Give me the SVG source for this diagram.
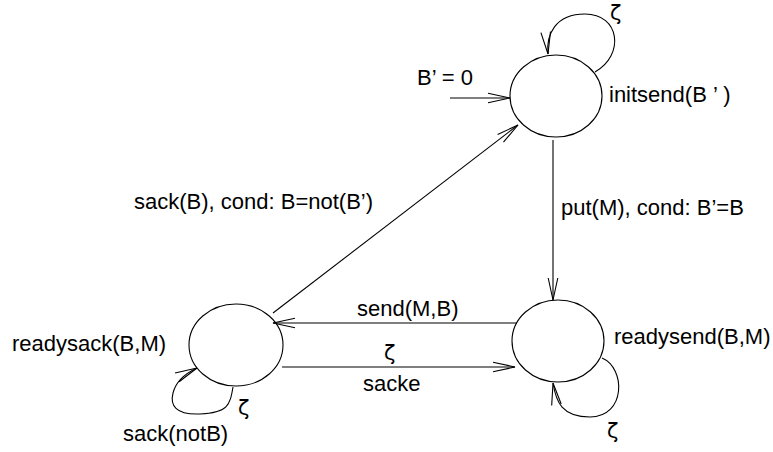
<svg xmlns="http://www.w3.org/2000/svg" width="773" height="452" viewBox="0 0 773 452">
<style>
.node{fill:none;stroke:#000;stroke-width:1.1}
.edge{fill:none;stroke:#000;stroke-width:1.1}
text{font-family:"Liberation Sans",Arial,sans-serif;font-size:22px;fill:#000}
text.z{font-family:"DejaVu Sans",sans-serif;font-size:21px}
</style>
<defs>
<marker id="arr" markerUnits="userSpaceOnUse" viewBox="-24 -7 26 14" markerWidth="26" markerHeight="14" refX="0" refY="0" orient="auto">
<path d="M -22,-4.8 L 0,0 L -22,4.8" fill="none" stroke="#000" stroke-width="1.1"/>
</marker>
</defs>
<rect width="773" height="452" fill="#fff"/>
<g id="connectors">
<line class="edge" x1="450" y1="98" x2="510" y2="98" marker-end="url(#arr)"/>
<path class="edge" d="M 595,72 C 625,55 620,14 585,14 C 555,14 546,35 548,54" marker-end="url(#arr)"/>
<line class="edge" x1="553" y1="140" x2="553" y2="300" marker-end="url(#arr)"/>
<line class="edge" x1="273" y1="313" x2="518" y2="125" marker-end="url(#arr)"/>
<line class="edge" x1="517" y1="323" x2="273" y2="323" marker-end="url(#arr)"/>
<line class="edge" x1="282" y1="367" x2="515" y2="367" marker-end="url(#arr)"/>
<path class="edge" d="M 602,358 C 626,368 626,417 590,417 C 562,417 556,402 553,383" marker-end="url(#arr)"/>
<path class="edge" d="M 233,387 C 230,405 228,413 200,414 C 175,415 170,405 173,393 C 175,385 180,376 197,368" marker-end="url(#arr)"/>
</g>
<g id="initsend">
<ellipse class="node" cx="556" cy="96" rx="46" ry="41"/>
<text x="609" y="102">initsend(B ’ )</text>
</g>
<g id="readysend">
<ellipse class="node" cx="558" cy="341" rx="46" ry="41"/>
<text x="614" y="344">readysend(B,M)</text>
</g>
<g id="readysack">
<ellipse class="node" cx="236" cy="345" rx="47" ry="41"/>
<text x="12" y="351">readysack(B,M)</text>
</g>
<g id="labels">
<text x="417" y="85">B’ = 0</text>
<text class="z" x="610" y="20">ζ</text>
<text x="561" y="215">put(M), cond: B’=B</text>
<text x="134" y="209">sack(B), cond: B=not(B’)</text>
<text x="357" y="316">send(M,B)</text>
<text class="z" x="384" y="360">ζ</text>
<text x="363" y="391">sacke</text>
<text class="z" x="607" y="438">ζ</text>
<text class="z" x="238" y="415">ζ</text>
<text x="123" y="441">sack(notB)</text>
</g>
</svg>
